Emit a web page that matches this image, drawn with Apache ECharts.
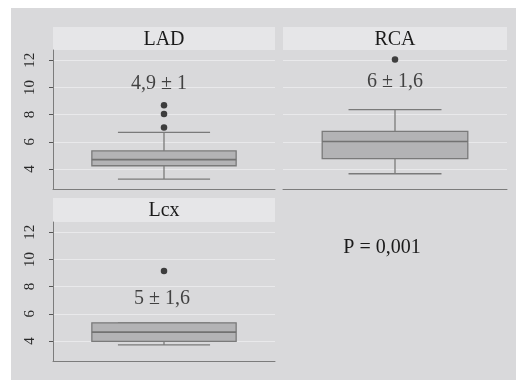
<!DOCTYPE html>
<html>
<head>
<meta charset="utf-8">
<script src="https://cdn.jsdelivr.net/npm/echarts@6/dist/echarts.min.js"></script>
<style>html,body{margin:0;padding:0;background:#fff}#c{width:516px;height:380px}</style>
</head>
<body>
<div id="c"></div>
<script>
// ---- data ----
const panels = ['LAD', 'RCA', 'Lcx'];
// [lower whisker, Q1, median, Q3, upper whisker]
const boxStats = [
  [3.26, 4.24, 4.69, 5.33, 6.69],
  [3.65, 4.76, 6.02, 6.76, 8.37],
  [3.71, 3.98, 4.65, 5.34, 5.34]
];
const outliers = [
  [8.69, 8.05, 7.06],
  [12.05],
  [9.14]
];
const meanSdLabels = ['4,9 ± 1', '6 ± 1,6', '5 ± 1,6'];
const meanSdLabelY = [10.3, 10.4, 7.1];
const yTicks = [4, 6, 8, 10, 12];
const pValueText = 'P = 0,001';

// ---- layout ----
const FONT = '"Liberation Serif", "DejaVu Serif", serif';
const grids = [
  { left: 53, top: 50, width: 222, height: 139 },
  { left: 283, top: 50, width: 224, height: 139 },
  { left: 53, top: 222, width: 222, height: 139 }
];
const headers = [
  { x: 53, y: 27, w: 222, h: 23 },
  { x: 283, y: 27, w: 224, h: 23 },
  { x: 53, y: 198, w: 222, h: 24 }
];
const labelOffsetX = [-5, 0, -2];
const Y_MIN = 2.53, Y_MAX = 12.75;

const xAxes = [], yAxes = [], series = [];
panels.forEach((p, i) => {
  xAxes.push({
    type: 'category', gridIndex: i, data: [p],
    axisLine: { show: true, lineStyle: { color: '#7c7c7c', width: 1 } },
    axisTick: { show: false }, axisLabel: { show: false }, splitLine: { show: false }
  });
  const showAxis = i !== 1;
  yAxes.push({
    type: 'value', gridIndex: i, min: Y_MIN, max: Y_MAX,
    axisLine: { show: showAxis, lineStyle: { color: '#7c7c7c', width: 1 } },
    axisTick: { show: showAxis, length: 4, customValues: yTicks, lineStyle: { color: '#555' } },
    axisLabel: {
      show: showAxis, customValues: yTicks, rotate: 90, margin: 15,
      fontFamily: FONT, fontSize: 15, color: '#2a2a2a'
    },
    splitLine: { show: true, customValues: yTicks, lineStyle: { color: '#e9e9eb', width: 1.2 } }
  });
  series.push({
    type: 'custom', xAxisIndex: i, yAxisIndex: i,
    data: [[0].concat(boxStats[i])],
    encode: { x: 0, y: [1, 2, 3, 4, 5] },
    renderItem: function (params, api) {
      const xi = api.value(0);
      const band = api.size([1, 0])[0];
      const boxW = band * 0.65, capW = band * 0.415;
      const c = api.coord([xi, api.value(3)]);
      const cx = c[0];
      const yLo = api.coord([xi, api.value(1)])[1];
      const yQ1 = api.coord([xi, api.value(2)])[1];
      const yMed = c[1];
      const yQ3 = api.coord([xi, api.value(4)])[1];
      const yHi = api.coord([xi, api.value(5)])[1];
      const st = { stroke: '#7a7a7a', lineWidth: 1.3 };
      return {
        type: 'group',
        children: [
          { type: 'line', shape: { x1: cx, y1: yQ1, x2: cx, y2: yLo }, style: st },
          { type: 'line', shape: { x1: cx, y1: yQ3, x2: cx, y2: yHi }, style: st },
          { type: 'line', shape: { x1: cx - capW / 2, y1: yLo, x2: cx + capW / 2, y2: yLo }, style: st },
          { type: 'line', shape: { x1: cx - capW / 2, y1: yHi, x2: cx + capW / 2, y2: yHi }, style: st },
          { type: 'rect', shape: { x: cx - boxW / 2, y: yQ3, width: boxW, height: yQ1 - yQ3 },
            style: { fill: '#b3b3b5', stroke: '#7a7a7a', lineWidth: 1.3 } },
          { type: 'line', shape: { x1: cx - boxW / 2, y1: yMed, x2: cx + boxW / 2, y2: yMed },
            style: { stroke: '#727272', lineWidth: 1.6 } }
        ]
      };
    },
    z: 2
  });
  series.push({
    type: 'scatter', xAxisIndex: i, yAxisIndex: i,
    data: outliers[i].map(v => [0, v]),
    symbolSize: 6.5, itemStyle: { color: '#151515' }, z: 3
  });
  series.push({
    type: 'scatter', xAxisIndex: i, yAxisIndex: i,
    data: [[0, meanSdLabelY[i]]],
    symbolSize: 0, silent: true,
    label: {
      show: true, position: 'inside', formatter: meanSdLabels[i],
      offset: [labelOffsetX[i], 0],
      fontFamily: FONT, fontSize: 20, color: '#1a1a1a'
    }
  });
});

const graphic = [
  { type: 'rect', shape: { x: 11, y: 8, width: 505, height: 372 }, style: { fill: '#d9d9db' }, z: -10 }
];
headers.forEach((h, i) => {
  graphic.push({ type: 'rect', shape: { x: h.x, y: h.y, width: h.w, height: h.h }, style: { fill: '#e6e6e8' }, z: -5 });
  graphic.push({
    type: 'text', x: h.x + h.w / 2, y: h.y + h.h / 2 + 1,
    style: { text: panels[i], fontFamily: FONT, fontSize: 20, fill: '#1a1a1a', align: 'center', verticalAlign: 'middle' }
  });
});
graphic.push({
  type: 'text', x: 382, y: 248,
  style: { text: pValueText, fontFamily: FONT, fontSize: 20, fill: '#1a1a1a', align: 'center', verticalAlign: 'middle' }
});

const chart = echarts.init(document.getElementById('c'), null, { renderer: 'canvas' });
chart.setOption({
  backgroundColor: '#ffffff',
  animation: false,
  grid: grids.map(g => Object.assign({ containLabel: false }, g)),
  xAxis: xAxes,
  yAxis: yAxes,
  series: series,
  graphic: graphic
});
</script>
</body>
</html>
